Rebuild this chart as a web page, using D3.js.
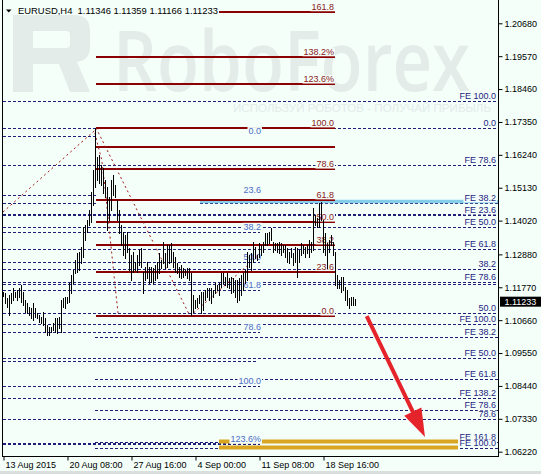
<!DOCTYPE html>
<html>
<head>
<meta charset="utf-8">
<script src="https://cdn.jsdelivr.net/npm/d3@7"></script>
<style>
    body { margin: 0; background: #F4FFFA; }
    svg { display: block; }
    text { font-family: "Liberation Sans", Arial, sans-serif; font-size: 9px; }
</style>
</head>
<body>
<svg id="chart"></svg>
<script>
// ---- data ----
const symbol = "EURUSD,H4";
const lastOHLC = [1.11346, 1.11359, 1.11166, 1.11233];

const priceTicks = [1.20680, 1.19570, 1.18460, 1.17350, 1.16240, 1.15130, 1.14020,
    1.12880, 1.11770, 1.10660, 1.09550, 1.08440, 1.07330, 1.06220];
const timeTickBars = [0, 32, 64, 96, 128, 160];
const timeLabels = ["13 Aug 2015", "20 Aug 08:00", "27 Aug 16:00", "4 Sep 00:00", "11 Sep 08:00", "18 Sep 16:00"];

// H4 bars, high / low
const barHigh = [
    1.1161, 1.1158, 1.1141, 1.1151, 1.1158, 1.1175, 1.1161, 1.1168, 1.1175, 1.1185,
    1.1161, 1.1134, 1.1124, 1.1110, 1.1107, 1.1124, 1.1107, 1.1090, 1.1083, 1.1077,
    1.1094, 1.1073, 1.1050, 1.1043, 1.1043, 1.1056, 1.1073, 1.1073, 1.1077, 1.1134,
    1.1141, 1.1144, 1.1144, 1.1191, 1.1218, 1.1235, 1.1269, 1.1293, 1.1296, 1.1313,
    1.1380, 1.1387, 1.1404, 1.1438, 1.1499, 1.1573, 1.1715, 1.1617, 1.1623, 1.1590,
    1.1580, 1.1539, 1.1515, 1.1482, 1.1539, 1.1556, 1.1522, 1.1472, 1.1438, 1.1387,
    1.1364, 1.1353, 1.1364, 1.1310, 1.1286, 1.1296, 1.1262, 1.1286, 1.1303, 1.1310,
    1.1229, 1.1245, 1.1262, 1.1245, 1.1245, 1.1242, 1.1252, 1.1262, 1.1293, 1.1269,
    1.1330, 1.1293, 1.1320, 1.1320, 1.1326, 1.1296, 1.1279, 1.1259, 1.1245, 1.1252,
    1.1242, 1.1235, 1.1242, 1.1242, 1.1225, 1.1151, 1.1134, 1.1141, 1.1151, 1.1161,
    1.1161, 1.1168, 1.1175, 1.1175, 1.1175, 1.1168, 1.1191, 1.1185, 1.1191, 1.1225,
    1.1225, 1.1212, 1.1225, 1.1208, 1.1212, 1.1208, 1.1202, 1.1202, 1.1208, 1.1218,
    1.1225, 1.1235, 1.1296, 1.1286, 1.1293, 1.1330, 1.1313, 1.1286, 1.1326, 1.1320,
    1.1330, 1.1360, 1.1360, 1.1364, 1.1377, 1.1330, 1.1326, 1.1326, 1.1330, 1.1326,
    1.1320, 1.1320, 1.1310, 1.1296, 1.1310, 1.1293, 1.1313, 1.1310, 1.1303, 1.1326,
    1.1320, 1.1313, 1.1320, 1.1337, 1.1330, 1.1445, 1.1421, 1.1411, 1.1461, 1.1465,
    1.1404, 1.1360, 1.1326, 1.1337, 1.1353, 1.1330, 1.1296, 1.1218, 1.1202, 1.1212,
    1.1212, 1.1178, 1.1168, 1.1141, 1.1144, 1.1144, 1.1136
];
const barLow = [
    1.1148, 1.1124, 1.1110, 1.1083, 1.1124, 1.1134, 1.1144, 1.1134, 1.1144, 1.1127,
    1.1117, 1.1094, 1.1090, 1.1083, 1.1073, 1.1067, 1.1077, 1.1073, 1.1060, 1.1056,
    1.1050, 1.1026, 1.1016, 1.1016, 1.1026, 1.1033, 1.1026, 1.1023, 1.1040, 1.1026,
    1.1110, 1.1107, 1.1124, 1.1127, 1.1158, 1.1191, 1.1225, 1.1229, 1.1235, 1.1259,
    1.1279, 1.1337, 1.1364, 1.1387, 1.1397, 1.1455, 1.1515, 1.1539, 1.1529, 1.1522,
    1.1495, 1.1482, 1.1370, 1.1404, 1.1438, 1.1488, 1.1482, 1.1404, 1.1360, 1.1320,
    1.1286, 1.1276, 1.1296, 1.1235, 1.1202, 1.1229, 1.1235, 1.1229, 1.1252, 1.1245,
    1.1158, 1.1202, 1.1208, 1.1191, 1.1195, 1.1191, 1.1202, 1.1208, 1.1225, 1.1242,
    1.1259, 1.1242, 1.1245, 1.1259, 1.1262, 1.1245, 1.1229, 1.1225, 1.1212, 1.1208,
    1.1212, 1.1218, 1.1208, 1.1202, 1.1083, 1.1094, 1.1107, 1.1110, 1.1124, 1.1090,
    1.1100, 1.1134, 1.1144, 1.1134, 1.1124, 1.1144, 1.1158, 1.1168, 1.1151, 1.1178,
    1.1191, 1.1185, 1.1178, 1.1175, 1.1158, 1.1161, 1.1144, 1.1127, 1.1134, 1.1151,
    1.1168, 1.1191, 1.1202, 1.1245, 1.1235, 1.1262, 1.1276, 1.1269, 1.1279, 1.1286,
    1.1296, 1.1320, 1.1320, 1.1326, 1.1337, 1.1296, 1.1303, 1.1296, 1.1293, 1.1286,
    1.1296, 1.1279, 1.1262, 1.1259, 1.1279, 1.1252, 1.1262, 1.1212, 1.1262, 1.1286,
    1.1293, 1.1279, 1.1293, 1.1279, 1.1296, 1.1303, 1.1387, 1.1380, 1.1380, 1.1404,
    1.1296, 1.1286, 1.1242, 1.1296, 1.1320, 1.1286, 1.1185, 1.1175, 1.1175, 1.1161,
    1.1168, 1.1134, 1.1117, 1.1107, 1.1117, 1.1117, 1.1117
];

// red fibo (peak 20 Aug -> low 4 Sep), drawn between two bars
const redFibLevels = [1.2107, 1.1955, 1.1863, 1.1715, 1.1651, 1.1576, 1.1472, 1.1397, 1.1320, 1.1230, 1.1080];
const redFibLabels = ["161.8", "138.2%", "123.6%", "100.0", "", "78.6", "61.8", "50.0", "38.2", "23.6", "0.0"];
const redFibBars = [46.5, 166];

// navy fibo on the left part
const navyFibLevels = [1.1688, 1.1488, 1.1365, 1.1263, 1.1168, 1.1025, 1.0929, 1.0844, 1.0647];
const navyFibLabels = ["0.0", "23.6", "38.2", "50.0", "61.8", "78.6", "", "100.0", "123.6%"];
const navyFibEndBar = [46.5, 46.5, 128.5, 128.5, 128.5, 128.5, 127.5, 128.5, 128.5];

// expansion levels running to the right edge
const feLevels = [1.1806, 1.1714, 1.1590, 1.1462, 1.1421, 1.1381, 1.1305, 1.1238, 1.1196, 1.1188,
    1.1089, 1.1052, 1.1010, 1.0939, 1.0866, 1.0802, 1.0763, 1.0731, 1.0656, 1.0633];
const feLabels = ["FE 100.0", "0.0", "FE 78.6", "FE 38.2", "FE 23.6", "FE 50.0", "FE 61.8", "38.2", "FE 78.6", "",
    "50.0", "FE 100.0", "FE 38.2", "FE 50.0", "FE 61.8", "FE 138.2", "FE 78.6", "78.6", "FE 161.8", "FE 100.0"];
const feStartBar = [0, 0, 0, 98.5, 0, 0, 0, 0, 0, 0, 0, 0, 46, 0, 46, 0, 46, 0, 46, 46];
const feStub = [1.1462, 0, 46.5];

const blueLevel = 1.1468, blueStartBar = 98.5;
const goldLevels = [1.0657, 1.0639];
const goldBars = [108, 227.5];

// dotted helper lines (bar, price)
const trendLeft = [[0, 1.1431], [46, 1.1707]];
const arcLine = [[46, 1.1698], [47.15, 1.1664], [49.35, 1.1607], [51, 1.1515], [52.65, 1.1404],
    [54.35, 1.1293], [56, 1.1185], [57.5, 1.1090]];
const fibAnchor = [[46.5, 1.1715], [93.5, 1.1080]];
const trendUp = [[93.5, 1.1080], [122.5, 1.1252]];
const arrowLine = [[181.85, 1.1080], [211, 1.0672]];

// ---- drawing ----
const width = 541, height = 474;
const BG = "#F4FFFA";
const NAVY = "#1E1E78";

const svg = d3.select("#chart").attr("width", width).attr("height", height);
svg.append("rect").attr("width", width).attr("height", height).attr("fill", BG);

const x = d3.scaleLinear().domain([0, barHigh.length - 1]).range([3, 355]);
const y = d3.scaleLinear().domain([1.2068, 1.0622]).range([23.3, 451.7]);
const plotRight = 498.5, plotBottom = 456.5;
const crisp = v => Math.round(v) + 0.5;

// watermark
const wm = "#E3ECE9";
svg.append("path")
    .attr("d", "M13,15 H74 Q90,15 90,31 V47 Q90,60 77,62 L90,92 H70 L59,64 H33 V92 H13 Z " +
        "M33,31 H66 Q70,31 70,35 V44 Q70,48 66,48 H33 Z")
    .attr("fill", wm).attr("fill-rule", "evenodd");
svg.append("text").attr("x", 113).attr("y", 91)
    .attr("textLength", 357).attr("lengthAdjust", "spacingAndGlyphs")
    .style("font-family", "'Open Sans', sans-serif").style("font-size", "84px")
    .style("font-weight", "600")
    .attr("fill", wm).text("RoboForex");
svg.append("text").attr("x", 233).attr("y", 112)
    .attr("textLength", 258).attr("lengthAdjust", "spacingAndGlyphs")
    .style("font-size", "10.5px").attr("fill", wm)
    .text("ИСПОЛЬЗУЙ РОБОТОВ - ПОЛУЧАЙ ПРИБЫЛЬ");

const objects = svg.append("g");

function hLine(price, x1, x2, opts) {
    const yy = opts.w === 2 ? Math.round(y(price)) : crisp(y(price));
    objects.append("line")
        .attr("x1", x1).attr("x2", x2).attr("y1", yy).attr("y2", yy)
        .attr("stroke", opts.color).attr("stroke-width", opts.w || 1)
        .attr("stroke-dasharray", opts.dash || null);
}

// navy dashed levels
feLevels.forEach((p, i) => {
    const bold = i === 4;
    hLine(p, x(feStartBar[i]), plotRight, {color: NAVY, w: bold ? 2 : 1, dash: "3,2"});
});
hLine(feStub[0], x(feStub[1]), x(feStub[2]), {color: NAVY, dash: "3,2"});
navyFibLevels.forEach((p, i) => {
    hLine(p, x(0), x(navyFibEndBar[i]), {color: NAVY, w: i === 8 ? 2 : 1, dash: "3,2"});
});

// light blue line, red fibo, gold zone
hLine(blueLevel, x(blueStartBar), plotRight, {color: "#87CEEB", w: 3.5});
redFibLevels.forEach(p => hLine(p, x(redFibBars[0]), x(redFibBars[1]), {color: "#8B0000", w: 2}));
goldLevels.forEach(p => hLine(p, x(goldBars[0]), x(goldBars[1]), {color: "#DAA520", w: 4}));

// labels with chart-coloured background
function label(txt, xr, price, color) {
    if (!txt) return;
    const base = y(price) - 2;
    const g = objects.append("g");
    const r = g.append("rect").attr("fill", BG);
    const t = g.append("text").attr("x", xr).attr("y", base)
        .attr("text-anchor", "end").attr("fill", color).text(txt);
    const b = t.node().getBBox();
    r.attr("x", b.x - 1).attr("y", base - 6.8).attr("width", b.width + 2).attr("height", 8.3);
}
redFibLevels.forEach((p, i) => label(redFibLabels[i], 334, p, "#8B1A1A"));
navyFibLevels.forEach((p, i) => label(navyFibLabels[i], 261, p, "#4C6CC4"));
feLevels.forEach((p, i) => label(feLabels[i], 496, p, "#24237F"));

// dotted red lines
const line = d3.line().x(d => x(d[0])).y(d => y(d[1]));
[trendLeft, arcLine, fibAnchor, trendUp].forEach(pts => {
    objects.append("path").attr("d", line(pts))
        .attr("fill", "none").attr("stroke", "#A01818")
        .attr("stroke-width", 1).attr("stroke-dasharray", "2,3");
});

// bars
svg.append("g").selectAll("line")
    .data(barHigh)
    .enter()
    .append("line")
    .attr("x1", (d, i) => x(i) + 0.5)
    .attr("x2", (d, i) => x(i) + 0.5)
    .attr("y1", d => Math.round(y(d)))
    .attr("y2", (d, i) => Math.round(y(barLow[i])) + 1)
    .attr("stroke", "#000").attr("stroke-width", 1);

// red arrow
{
    const sx = x(arrowLine[0][0]), sy = y(arrowLine[0][1]);
    const tx = x(arrowLine[1][0]), ty = y(arrowLine[1][1]);
    const len = Math.hypot(tx - sx, ty - sy);
    const ux = (tx - sx) / len, uy = (ty - sy) / len;
    const headL = 28, headW = 9.5;
    const bx = tx - ux * headL, by = ty - uy * headL;
    svg.append("line").attr("x1", sx).attr("y1", sy)
        .attr("x2", bx + ux * 4).attr("y2", by + uy * 4)
        .attr("stroke", "#E5232B").attr("stroke-width", 4);
    svg.append("path")
        .attr("d", `M${tx},${ty} L${bx - uy * headW},${by + ux * headW} L${bx + uy * headW},${by - ux * headW} Z`)
        .attr("fill", "#E5232B");
}

// header
{
    const hg = svg.append("g");
    hg.append("rect").attr("fill", BG)
        .attr("x", 0).attr("y", 4).attr("width", 219).attr("height", 11);
    hg.append("text").attr("x", 18).attr("y", 14).attr("fill", "#000")
        .attr("textLength", 200).attr("lengthAdjust", "spacingAndGlyphs")
        .style("white-space", "pre")
        .text(`${symbol}  ${lastOHLC.map(d => d.toFixed(5)).join(" ")}`);
    hg.append("path").attr("d", "M6,9.5 H11.5 L8.75,12.5 Z").attr("fill", "#000");
}

// frame and axes
svg.append("line").attr("x1", 2.5).attr("x2", 2.5).attr("y1", 0).attr("y2", plotBottom)
    .attr("stroke", "#000");
svg.append("line").attr("x1", plotRight).attr("x2", plotRight).attr("y1", 0).attr("y2", plotBottom + 0.5)
    .attr("stroke", "#000");
svg.append("line").attr("x1", 2).attr("x2", plotRight).attr("y1", plotBottom).attr("y2", plotBottom)
    .attr("stroke", "#000");

const axisY = d3.axisRight(y).tickValues(priceTicks)
    .tickFormat(d3.format(".5f")).tickSize(4).tickPadding(2);
const gy = svg.append("g").attr("transform", `translate(${plotRight},0)`).call(axisY);
gy.select(".domain").remove();
gy.selectAll("text").style("font-size", "9px").attr("fill", "#000");

const axisX = d3.axisBottom(x).tickValues(timeTickBars)
    .tickFormat((d, i) => timeLabels[i]).tickSize(4).tickPadding(1);
const gx = svg.append("g").attr("transform", `translate(0.5,${plotBottom})`).call(axisX);
gx.select(".domain").remove();
gx.selectAll("text").attr("text-anchor", "start").attr("x", 1.5)
    .style("font-size", "9px").attr("fill", "#000");

// current price marker
{
    const cy = y(lastOHLC[3]);
    svg.append("rect").attr("x", 500).attr("y", cy - 6.5).attr("width", 41).attr("height", 10)
        .attr("fill", "#000");
    svg.append("text").attr("x", 504.5).attr("y", cy + 1.5).attr("fill", "#fff")
        .text(lastOHLC[3].toFixed(5));
}

svg.append("rect").attr("x", 0).attr("y", 471).attr("width", width).attr("height", 3)
    .attr("fill", "#DADEDC");
</script>
</body>
</html>
